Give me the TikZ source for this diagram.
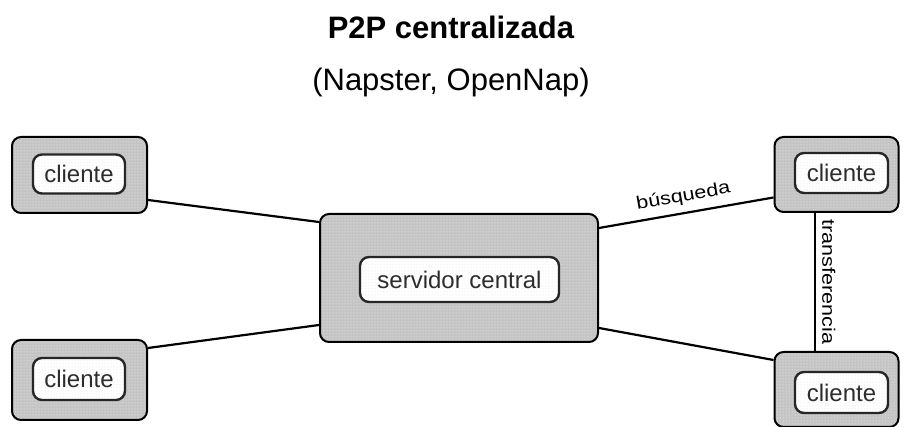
\documentclass[tikz,border=0pt]{standalone}
\usepackage{fontspec}
\setmainfont{Liberation Sans}
\newfontfamily\widefont[FakeStretch=1.2]{Liberation Sans}
\usetikzlibrary{patterns}
\definecolor{boxgray}{RGB}{196,196,196}
\definecolor{labelgray}{RGB}{45,45,45}
\tikzset{
  outerbox/.style={draw=black, line width=2pt, rounded corners=9pt,
    preaction={fill=boxgray}, pattern=dots, pattern color=white!85!boxgray,
    inner sep=0pt},
  innerbox/.style={draw=black!85, line width=2.4pt, rounded corners=9pt,
    preaction={fill=white}, pattern=dots, pattern color=black!12,
    inner sep=0pt, text=labelgray,
    font=\fontsize{24}{28}\selectfont},
  link/.style={line width=2.2pt, black},
  linklabel/.style={inner sep=0pt, font=\widefont\fontsize{18}{21}\selectfont}
}
\begin{document}
\begin{tikzpicture}[x=1pt, y=-1pt]
\useasboundingbox (0,0) rectangle (903,427);

% titles
\node[anchor=base, font=\fontsize{31}{36}\bfseries\selectfont] (title) at (451,39) {P2P centralizada};
\node[anchor=base, font=\fontsize{31}{36}\selectfont] (subtitle) at (451,91) {(Napster, OpenNap)};

% central server
\node[outerbox, minimum width=278pt, minimum height=128pt] (srv) at (459,278) {};
\node[innerbox, minimum width=199pt, minimum height=45pt] (srvin) at (459.5,279.5) {servidor central};

% clients on the left
\node[outerbox, minimum width=135pt, minimum height=76pt] (tl) at (79.5,175) {};
\node[innerbox, minimum width=92pt, minimum height=39pt] (tlin) at (79,174) {cliente};
\node[outerbox, minimum width=135pt, minimum height=80pt] (bl) at (79.5,380) {};
\node[innerbox, minimum width=92pt, minimum height=42pt] (blin) at (79,379) {cliente};

% clients on the right
\node[outerbox, minimum width=124pt, minimum height=75pt] (tr) at (836.5,174.5) {};
\node[innerbox, minimum width=93pt, minimum height=40pt] (trin) at (841.5,173) {cliente};
\node[outerbox, minimum width=124pt, minimum height=75pt] (br) at (836.5,389.5) {};
\node[innerbox, minimum width=93pt, minimum height=41pt] (brin) at (841.5,392.5) {cliente};

% connectors
\draw[link] ([yshift=-25pt]tl.east) -- ([yshift=56pt]srv.west);
\draw[link] ([yshift=32pt]bl.east) -- ([yshift=-47pt]srv.west);
\draw[link] ([yshift=50pt]srv.east) -- node[linklabel, above=7pt, sloped] {búsqueda} ([yshift=-23pt]tr.west);
\draw[link] ([yshift=-50pt]srv.east) -- ([yshift=29.5pt]br.west);
\draw[link] ([xshift=-21.5pt]tr.south) -- node[linklabel, right=6pt, rotate=-90, anchor=south] {transferencia} ([xshift=-21.5pt]br.north);
\end{tikzpicture}
\end{document}
